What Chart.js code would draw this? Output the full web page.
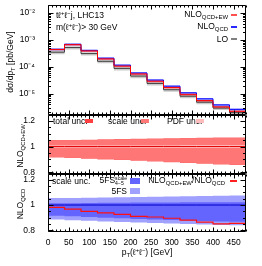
<!DOCTYPE html>
<html><head><meta charset="utf-8">
<script src="https://cdn.jsdelivr.net/npm/chart.js@4"></script>
<style>
html,body{margin:0;padding:0;background:#fff;width:262px;height:266px;overflow:hidden;font-family:"Liberation Sans",Arial,sans-serif;}
#wrap{position:relative;width:262px;height:266px;}
canvas{position:absolute;left:0;}
.t{position:absolute;white-space:nowrap;font-size:8.5px;line-height:1;color:#000;}
.r{text-align:right;}
.sw{position:absolute;}
sub{font-size:70%;line-height:0;vertical-align:-0.35em;}
sup{font-size:70%;line-height:0;vertical-align:0.5em;}
.rot{transform:translate(-50%,-50%) rotate(-90deg);}
.ss{display:inline-block;vertical-align:-0.35em;font-size:60%;line-height:1;text-align:left;}
.ss span{display:block;}
</style></head>
<body><div id="wrap">
<canvas id="c1" width="262" height="116" style="top:0"></canvas>
<canvas id="c2" width="262" height="60" style="top:115px"></canvas>
<canvas id="c3" width="262" height="92" style="top:174px"></canvas>

<div class="t" style="left:56px;top:11px">tℓ<sup>+</sup>ℓ<sup>−</sup>j, LHC13</div>
<div class="t" style="left:56px;top:23px">m(ℓ<sup>+</sup>ℓ<sup>−</sup>)&gt; 30 GeV</div>
<div class="t r" style="right:34px;top:10px">NLO<sub>QCD+EW</sub></div>
<div class="t r" style="right:34px;top:22px">NLO<sub>QCD</sub></div>
<div class="t r" style="right:34px;top:35px">LO</div>
<div class="sw" style="left:231px;top:14px;width:6px;height:1.5px;background:#ff5050"></div>
<div class="sw" style="left:231px;top:26px;width:6px;height:1.5px;background:#2828ff"></div>
<div class="sw" style="left:231px;top:38px;width:6px;height:1.5px;background:#808080"></div>

<div class="t" style="left:53px;top:117px">total unc.</div>
<div class="sw" style="left:85px;top:119px;width:8px;height:4px;background:#ff4040"></div>
<div class="t" style="left:108px;top:117px">scale unc.</div>
<div class="sw" style="left:141px;top:119px;width:8px;height:4px;background:#ff7878"></div>
<div class="t" style="left:167px;top:117px">PDF unc.</div>
<div class="sw" style="left:196px;top:119px;width:8px;height:4px;background:#ffbcbc"></div>

<div class="t" style="left:52px;top:177px">scale unc.</div>
<div class="t r" style="right:135px;top:176px">5FS<span class="ss"><span>scale</span><span>4−5</span></span></div>
<div class="sw" style="left:130px;top:178px;width:10px;height:6px;background:#6464ff"></div>
<div class="t r" style="right:135px;top:187px">5FS</div>
<div class="sw" style="left:130px;top:188px;width:10px;height:6px;background:#a0a0ff"></div>
<div class="t r" style="right:37px;top:176px">NLO<sub>QCD+EW</sub>/NLO<sub>QCD</sub></div>
<div class="sw" style="left:230px;top:180px;width:7px;height:1.5px;background:#ff2020"></div>

<div class="t rot" style="left:10px;top:62px">dσ/dp<sub>T</sub> [pb/GeV]</div>
<div class="t rot" style="left:20px;top:146px">NLO<sub>QCD+EW</sub></div>
<div class="t rot" style="left:20px;top:204px">NLO<sub>QCD</sub></div>
<div class="t" style="left:147px;top:252px;transform:translate(-50%,-50%)">p<sub>T</sub>(ℓ<sup>+</sup>ℓ<sup>−</sup>) [GeV]</div>
</div>
<script>
// ---- data ----
const edges = [0,40,80,120,160,200,240,280,320,360,400,440,480];
const xTicks = [0,50,100,150,200,250,300,350,400,450];
const logTicks = [1e-5,1e-4,1e-3,1e-2];
const logTickLabels = ['10⁻⁵','10⁻⁴','10⁻³','10⁻²'];
const ratioTicks = [0.8,1,1.2];
const ratioTickLabels = ['0.8','1','1.2'];

const nloQcd   = [4.5e-4,6.9e-4,4.1e-4,2.1e-4,1.15e-4,5.9e-5,3.2e-5,1.9e-5,1.07e-5,6.4e-6,3.8e-6,2.6e-6];
const nloQcdEw = [4.42e-4,6.67e-4,3.9e-4,1.97e-4,1.06e-4,5.4e-5,2.9e-5,1.7e-5,9.4e-6,5.5e-6,3.2e-6,2.2e-6];
const lo       = [3.5e-4,5.2e-4,3.1e-4,1.6e-4,8.7e-5,4.5e-5,2.4e-5,1.4e-5,8.0e-6,4.8e-6,2.9e-6,1.95e-6];
const loScaleUp = [1.12,1.12,1.12,1.12,1.12,1.12,1.12,1.12,1.12,1.12,1.12,1.12];
const loScaleDn = [0.84,0.84,0.84,0.84,0.84,0.84,0.84,0.84,0.84,0.84,0.84,0.84];

const unity     = [1,1,1,1,1,1,1,1,1,1,1,1];
const ewTotUp   = [1.052,1.052,1.054,1.056,1.058,1.06,1.062,1.064,1.066,1.068,1.07,1.07];
const ewTotDn   = [0.914,0.91,0.905,0.9,0.895,0.89,0.884,0.878,0.872,0.866,0.86,0.857];
const ewScaleUp = [1.048,1.048,1.05,1.052,1.054,1.056,1.058,1.06,1.062,1.064,1.066,1.066];
const ewScaleDn = [0.918,0.914,0.909,0.904,0.899,0.894,0.888,0.882,0.876,0.87,0.864,0.861];
const ewPdfUp   = [1.01,1.01,1.01,1.01,1.01,1.011,1.011,1.011,1.012,1.012,1.012,1.012];
const ewPdfDn   = [0.99,0.99,0.99,0.99,0.99,0.989,0.989,0.989,0.988,0.988,0.988,0.988];

const ewOverQcd = [0.982,0.967,0.95,0.937,0.925,0.91,0.905,0.895,0.88,0.865,0.85,0.855];
const fsUp      = [1.055,1.056,1.058,1.06,1.062,1.064,1.066,1.068,1.07,1.072,1.074,1.075];
const fsDn      = [0.885,0.88,0.875,0.87,0.866,0.862,0.858,0.854,0.85,0.846,0.842,0.84];
const fs45Up    = [1.015,1.015,1.016,1.017,1.018,1.019,1.02,1.02,1.021,1.022,1.022,1.022];
const fs45Dn    = [0.914,0.91,0.905,0.9,0.895,0.89,0.886,0.882,0.878,0.874,0.87,0.868];

// ---- helpers ----
const FONT = {family:'"Liberation Sans", Arial, sans-serif', size:8.5};
function steps(vals){ return edges.map((e,i)=>({x:e, y:vals[Math.min(i, vals.length-1)]})); }
function mul(vals, rel){ return vals.map((v,i)=>v*rel[i]); }
function lineDs(vals, color, w){ return {data:steps(vals), borderColor:color, borderWidth:w, stepped:'before', pointRadius:0, fill:false, order:0}; }
function bandDs(up, dn, color, order){ return [
  {data:steps(up), borderColor:'transparent', borderWidth:0, pointRadius:0, stepped:'before', fill:'+1', backgroundColor:color, order},
  {data:steps(dn), borderColor:'transparent', borderWidth:0, pointRadius:0, stepped:'before', fill:false, order}
];}
function noPad(s){ s.paddingTop = 0; s.paddingBottom = 0; s.paddingLeft = 0; s.paddingRight = 0; }

const frameTicks = {
  id:'frameTicks',
  afterDraw(chart){
    const {ctx, chartArea:a, scales} = chart;
    const xs = scales.x, ys = scales.y;
    ctx.save();
    ctx.strokeStyle = '#000'; ctx.lineWidth = 1;
    ctx.beginPath();
    const L = Math.round(a.left)+0.5, R = Math.round(a.right)-0.5, T = Math.round(a.top)+0.5, B = Math.round(a.bottom)-0.5;
    ctx.rect(L, T, R-L, B-T);
    for (let v = 0; v <= 480; v += 10) {
      const px = Math.round(xs.getPixelForValue(v)) + 0.5;
      const len = (v % 50 === 0) ? 4 : 2;
      ctx.moveTo(px, B); ctx.lineTo(px, B-len);
      ctx.moveTo(px, T); ctx.lineTo(px, T+len);
    }
    const yt = [];
    if (ys.type === 'logarithmic') {
      for (let e = -6; e <= -1; e++) for (let k = 1; k <= 9; k++) {
        const v = k*Math.pow(10,e);
        if (v >= ys.min && v <= ys.max) yt.push([v, k===1 ? 5 : 2.5]);
      }
    } else {
      for (let i = 0; i <= 12; i++) {
        const v = 0.75 + i*0.05;
        if (v >= ys.min && v <= ys.max) {
          const q = (v-0.8)/0.2;
          const major = Math.abs(q - Math.round(q)) < 1e-6;
          yt.push([v, major ? 5 : 2.5]);
        }
      }
    }
    yt.forEach(([v,len])=>{
      const py = Math.round(ys.getPixelForValue(v)) + 0.5;
      ctx.moveTo(L, py); ctx.lineTo(L+len, py);
      ctx.moveTo(R, py); ctx.lineTo(R-len, py);
    });
    ctx.stroke();
    ctx.restore();
  }
};

function yAxis(extra){
  return Object.assign({
    afterFit(s){ s.width = 48; noPad(s); },
    grid:{display:false}, border:{display:false},
    ticks:{font:FONT, color:'#000', padding:5, autoSkip:false}
  }, extra);
}
function xAxis(show){
  return {
    type:'linear', min:0, max:480, display:show,
    afterBuildTicks(s){ s.ticks = xTicks.map(v=>({value:v})); },
    afterFit(s){ if (show) s.height = 34; else s.height = 0; noPad(s); },
    grid:{display:false}, border:{display:false},
    ticks:{font:FONT, color:'#000', padding:-2, autoSkip:false, maxRotation:0, callback:(v)=>String(v)}
  };
}
const base = {
  responsive:false, animation:false, events:[],
  plugins:{legend:{display:false}, tooltip:{enabled:false}},
  elements:{line:{tension:0}}
};

// ---- top panel ----
new Chart(document.getElementById('c1'), {
  type:'line',
  data:{datasets:[
    lineDs(nloQcdEw, '#ff0000', 1),
    lineDs(nloQcd, '#0000ff', 1),
    lineDs(lo, '#404040', 1),
    ...bandDs(mul(nloQcdEw, ewScaleUp), mul(nloQcdEw, ewScaleDn), 'rgba(255,60,60,0.45)', 1),
    ...bandDs(mul(nloQcd, fsUp), mul(nloQcd, fsDn), 'rgba(90,90,255,0.5)', 2),
    ...bandDs(mul(lo, loScaleUp), mul(lo, loScaleDn), 'rgba(150,150,150,0.5)', 3)
  ]},
  options:Object.assign({}, base, {
    layout:{padding:{top:5, right:16, bottom:1, left:0}},
    scales:{
      x:xAxis(false),
      y:yAxis({type:'logarithmic', min:1.6e-6, max:2e-2,
        afterBuildTicks(s){ s.ticks = logTicks.map(v=>({value:v})); },
        ticks:{font:FONT, color:'#000', padding:5, autoSkip:false, callback:(v,i)=>logTickLabels[i]}})
    }
  }),
  plugins:[frameTicks]
});

// ---- middle panel ----
new Chart(document.getElementById('c2'), {
  type:'line',
  data:{datasets:[
    lineDs(unity, '#e00000', 1),
    ...bandDs(ewPdfUp, ewPdfDn, 'rgba(255,190,190,0.9)', 1),
    ...bandDs(ewScaleUp, ewScaleDn, 'rgba(255,120,120,0.9)', 2),
    ...bandDs(ewTotUp, ewTotDn, 'rgba(255,90,90,0.9)', 3)
  ]},
  options:Object.assign({}, base, {
    layout:{padding:{top:0, right:16, bottom:1, left:0}},
    scales:{
      x:xAxis(false),
      y:yAxis({type:'linear', min:0.786, max:1.246,
        afterBuildTicks(s){ s.ticks = ratioTicks.map(v=>({value:v})); },
        ticks:{font:FONT, color:'#000', padding:5, autoSkip:false, callback:(v,i)=>ratioTickLabels[i]}})
    }
  }),
  plugins:[frameTicks]
});

// ---- bottom panel ----
new Chart(document.getElementById('c3'), {
  type:'line',
  data:{datasets:[
    lineDs(ewOverQcd, '#ff1010', 1.2),
    lineDs(unity, '#0000c8', 1),
    ...bandDs(fs45Up, fs45Dn, 'rgba(100,100,255,1)', 1),
    ...bandDs(fsUp, fsDn, 'rgba(160,160,255,1)', 2)
  ]},
  options:Object.assign({}, base, {
    layout:{padding:{top:0, right:16, bottom:0, left:0}},
    scales:{
      x:xAxis(true),
      y:yAxis({type:'linear', min:0.786, max:1.246,
        afterBuildTicks(s){ s.ticks = ratioTicks.map(v=>({value:v})); },
        ticks:{font:FONT, color:'#000', padding:5, autoSkip:false, callback:(v,i)=>ratioTickLabels[i]}})
    }
  }),
  plugins:[frameTicks]
});
</script>
</body></html>
